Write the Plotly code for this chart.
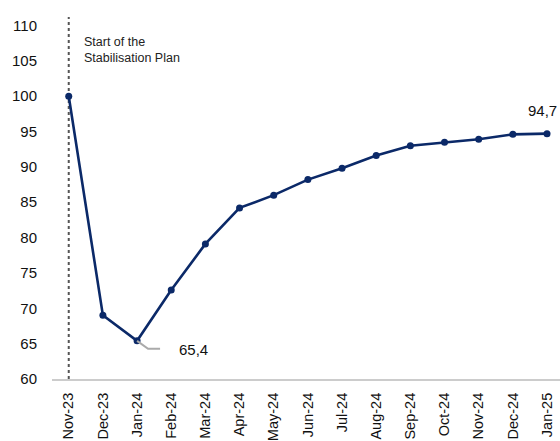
import plotly.graph_objects as go

# Monthly index values (Nov-23 = 100)
months = ["Nov-23", "Dec-23", "Jan-24", "Feb-24", "Mar-24", "Apr-24", "May-24",
          "Jun-24", "Jul-24", "Aug-24", "Sep-24", "Oct-24", "Nov-24", "Dec-24", "Jan-25"]
index_values = [100.0, 69.0, 65.4, 72.6, 79.1, 84.2, 86.0, 88.2, 89.8, 91.6,
                93.0, 93.5, 93.9, 94.6, 94.7]
y_ticks = [60, 65, 70, 75, 80, 85, 90, 95, 100, 105, 110]

navy = "#0b2968"
font_family = "Liberation Sans, Arial, sans-serif"

x_pos = list(range(len(months)))

fig = go.Figure()
fig.add_trace(go.Scatter(
    x=x_pos, y=index_values, mode="lines+markers",
    line=dict(color=navy, width=2.6),
    marker=dict(color=navy, size=7),
    hoverinfo="skip", showlegend=False,
))

# Dotted marker for the start of the plan
fig.add_shape(type="line", xref="x", yref="paper",
              x0=x_pos[0], x1=x_pos[0], y0=0, y1=1,
              line=dict(color="#555555", width=2, dash="dot"), layer="below")

fig.add_annotation(x=x_pos[0], y=110, xref="x", yref="y",
                   text="Start of the<br>Stabilisation Plan", showarrow=False,
                   xanchor="left", yanchor="top", align="left", xshift=13, yshift=-8,
                   font=dict(family=font_family, size=12.5, color="#222222"))

# Minimum label with elbow leader
i_min = index_values.index(min(index_values))
fig.add_shape(type="path", xref="x", yref="y", xsizemode="pixel", ysizemode="pixel",
              xanchor=x_pos[i_min], yanchor=index_values[i_min],
              path="M 0 0 L 11 -8 L 23 -8",
              line=dict(color="#aaaaaa", width=2))
fig.add_annotation(x=x_pos[i_min], y=index_values[i_min], xref="x", yref="y",
                   text=f"{index_values[i_min]:.1f}".replace(".", ","),
                   showarrow=False, xanchor="left", yanchor="middle",
                   xshift=40, yshift=-9,
                   font=dict(family=font_family, size=15, color="#111111"))

# Last value label
fig.add_annotation(x=x_pos[-1], y=index_values[-1], xref="x", yref="y",
                   text=f"{index_values[-1]:.1f}".replace(".", ","),
                   showarrow=False, xanchor="right", yanchor="middle",
                   xshift=12, yshift=23,
                   font=dict(family=font_family, size=15, color="#111111"))

fig.update_layout(
    width=560, height=441,
    margin=dict(l=52, r=0, t=17, b=60),
    plot_bgcolor="white", paper_bgcolor="white",
    font=dict(family=font_family, color="#111111"),
    xaxis=dict(
        tickmode="array", tickvals=x_pos, ticktext=months,
        tickangle=-90, range=[-0.49, 14.38],
        showgrid=False, zeroline=False,
        showline=True, linecolor="#cccccc", linewidth=2,
        ticks="", ticklabelstandoff=6,
        tickfont=dict(family=font_family, size=14.5, color="#111111"),
    ),
    yaxis=dict(
        tickmode="array", tickvals=y_ticks, range=[60, 111.2],
        showgrid=False, zeroline=False, showline=False,
        ticks="", ticklabelstandoff=14,
        tickfont=dict(family=font_family, size=15, color="#111111"),
    ),
)

fig.write_html("out.html")
